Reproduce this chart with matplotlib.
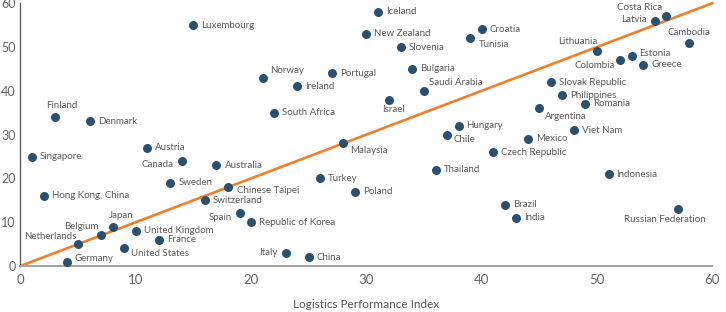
import matplotlib
matplotlib.use("Agg")
import matplotlib.pyplot as plt

plt.rcParams['font.family'] = ['Lato', 'DejaVu Sans']

# Ranks
countries = ["Singapore", "Hong Kong, China", "Finland", "Germany", "Netherlands", "Denmark",
             "Belgium", "Japan", "United States", "United Kingdom", "Austria", "France",
             "Sweden", "Canada", "Luxembourg", "Switzerland", "Australia", "Chinese Taipei",
             "Spain", "Republic of Korea", "Norway", "South Africa", "Italy", "Ireland",
             "China", "Turkey", "Portugal", "Malaysia", "Poland", "New Zealand", "Iceland",
             "Israel", "Slovenia", "Bulgaria", "Saudi Arabia", "Thailand", "Chile", "Hungary",
             "Tunisia", "Croatia", "Czech Republic", "Brazil", "India", "Mexico", "Argentina",
             "Slovak Republic", "Philippines", "Viet Nam", "Romania", "Lithuania", "Indonesia",
             "Colombia", "Estonia", "Greece", "Latvia", "Costa Rica", "Russian Federation",
             "Cambodia"]
lpi = list(range(1, 59))
other = [25, 16, 34, 1, 5, 33, 7, 9, 4, 8, 27, 6, 19, 24, 55, 15, 23, 18, 12, 10, 43, 35, 3,
         41, 2, 20, 44, 28, 17, 53, 58, 38, 50, 45, 40, 22, 30, 32, 52, 54, 26, 14, 11, 29,
         36, 42, 39, 31, 37, 49, 21, 47, 48, 46, 56, 57, 13, 51]

# label placement: (dx px, dy px, ha)
label_pos = {
    "Finland": (7, 12, "center"),
    "Canada": (-8, -4, "right"),
    "Spain": (-8, -4, "right"),
    "Japan": (-4, 11, "left"),
    "Belgium": (-3, 9, "right"),
    "Netherlands": (-2, 8, "right"),
    "Norway": (8, 7, "left"),
    "Saudi Arabia": (5, 8, "left"),
    "Israel": (4, -10, "center"),
    "Chile": (6, -5, "left"),
    "Malaysia": (7, -7, "left"),
    "Tunisia": (9, -6, "left"),
    "Costa Rica": (-4, 9, "right"),
    "Latvia": (-8, 1, "right"),
    "Cambodia": (0, 10, "center"),
    "Lithuania": (0, 10, "right"),
    "Colombia": (-5, -5, "right"),
    "Argentina": (6, -8, "left"),
    "Italy": (-8, 0, "right"),
    "Russian Federation": (-13, -10, "center"),
    "Chinese Taipei": (9, -3, "left"),
    "Germany": (8, 3, "left"),
    "United States": (7, -5, "left"),
    "Estonia": (8, 2, "left"),
}

fig = plt.figure(figsize=(7.26, 3.12), dpi=100)
ax = fig.add_axes([0.0282, 0.1474, 0.9529, 0.8423])

ax.plot([0, 60], [0, 60], color="#f07f2d", lw=1.9, zorder=1, clip_on=False)
ax.scatter(lpi, other, s=42, color="#2a506f", zorder=3, clip_on=False, linewidths=0)

for name, x, y in zip(countries, lpi, other):
    dx, dy, ha = label_pos.get(name, (8, 0, "left"))
    ax.annotate(name, (x, y), xytext=(dx, dy), textcoords="offset pixels",
                ha=ha, va="center", fontsize=7, color="#5a5a5a", zorder=4,
                annotation_clip=False)

ax.set_xlim(0, 60)
ax.set_ylim(0, 60)
ax.set_xticks([0, 10, 20, 30, 40, 50, 60])
ax.set_yticks([0, 10, 20, 30, 40, 50, 60])
ax.tick_params(length=0, labelsize=9.5, labelcolor="#666666")
ax.tick_params(axis="x", pad=6)
ax.tick_params(axis="y", pad=3.5, labelsize=9)
ax.set_xlabel("Logistics Performance Index", fontsize=8.5, color="#555555", labelpad=9)

for s in ["top", "right"]:
    ax.spines[s].set_visible(False)
ax.spines["left"].set_color("#555555")
ax.spines["left"].set_linewidth(0.9)
ax.spines["bottom"].set_color("#a0a0a0")
ax.spines["bottom"].set_linewidth(1.4)

fig.savefig("out.png", dpi=100)
